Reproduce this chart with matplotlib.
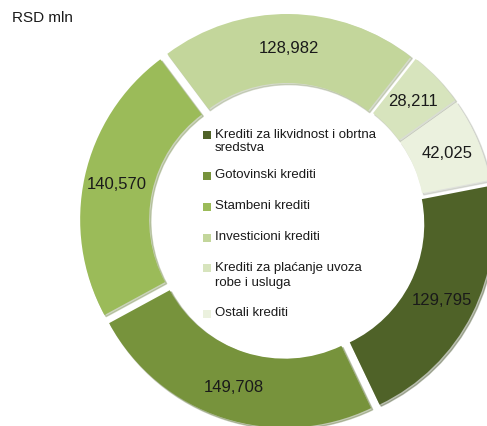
import matplotlib
matplotlib.use("Agg")
import matplotlib.pyplot as plt
from matplotlib.patches import Rectangle

categories = ["Krediti za likvidnost i obrtna\nsredstva", "Gotovinski krediti", "Stambeni krediti",
              "Investicioni krediti", "Krediti za plaćanje uvoza\nrobe i usluga", "Ostali krediti"]
values = [129795, 149708, 140570, 128982, 28211, 42025]
colors = ["#4F6228", "#77933C", "#9BBB59", "#C3D69B", "#D7E4BD", "#EBF1DE"]
unit_label = "RSD mln"

W, H = 487, 427
fig = plt.figure(figsize=(W / 100, H / 100), dpi=100)
ax = fig.add_axes([0, 0, 1, 1])

value_texts = iter(["{:,}".format(v) for v in values])
cx, cy = 287, H - 222
wedges, _, autotexts = ax.pie(
    values, colors=colors, startangle=11, counterclock=False,
    radius=200, center=(cx, cy), explode=[7] * len(values),
    wedgeprops=dict(width=69, edgecolor="none"),
    autopct=lambda p: next(value_texts), pctdistance=0.835,
    textprops=dict(fontsize=12, family="Liberation Sans", color="#1a1a1a"),
    shadow=dict(ox=1.2, oy=-1.2, shade=0.3, alpha=0.35),
    frame=True)
ax.set_xlim(0, W)
ax.set_ylim(0, H)
ax.set_aspect("equal", adjustable="box")
ax.axis("off")

ax.text(12, H - 18, unit_label, fontsize=11, family="Liberation Sans",
        color="#1a1a1a", va="center", ha="left")

# legend inside hole
leg_y = [135, 176, 207, 238, 268, 314]
leg_ls = [1.15, 1.1, 1.1, 1.1, 1.4, 1.1]
for w, lab, y, ls in zip(wedges, categories, leg_y, leg_ls):
    ax.add_patch(Rectangle((203, H - y - 4.5), 7.5, 7.5, facecolor=w.get_facecolor(),
                           edgecolor="none"))
    ax.text(215, H - y + 6.5, lab, fontsize=9.5, family="Liberation Sans", color="#1a1a1a",
            va="top", ha="left", linespacing=ls)

fig.savefig("out.png", dpi=100)
